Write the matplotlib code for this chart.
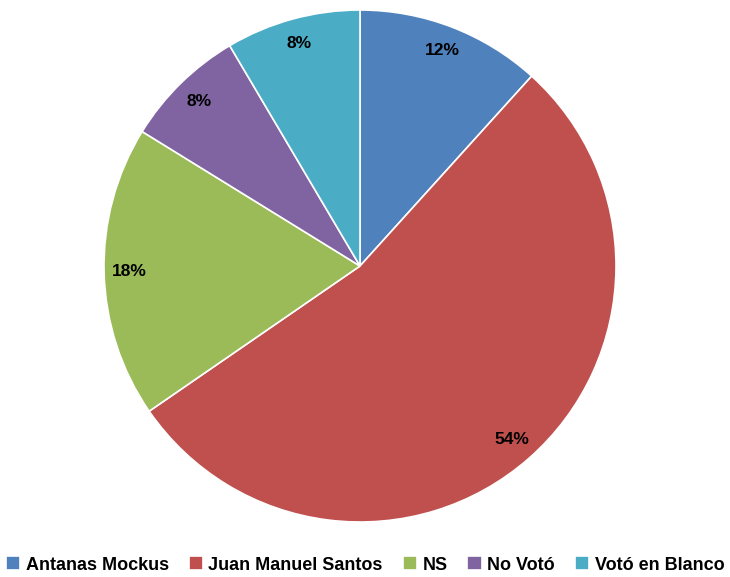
import matplotlib
matplotlib.use("Agg")
import matplotlib.pyplot as plt

labels = ["Antanas Mockus", "Juan Manuel Santos", "NS", "No Votó", "Votó en Blanco"]
shares = [11.7, 53.7, 18.4, 7.7, 8.5]
colors = ["#4F81BD", "#C0504D", "#9BBB59", "#8064A2", "#4BACC6"]

plt.rcParams["font.family"] = ["Liberation Sans Narrow", "Liberation Sans", "DejaVu Sans"]

fig = plt.figure(figsize=(7.30, 5.77), dpi=100)
ax = fig.add_axes([104 / 730, 55 / 577, 512 / 730, 512 / 577])

wedges, _, autotexts = ax.pie(
    shares,
    colors=colors,
    startangle=90,
    counterclock=False,
    radius=1.0,
    autopct=lambda p: f"{p:.0f}%",
    pctdistance=0.9,
    wedgeprops=dict(edgecolor="white", linewidth=1.2),
    textprops=dict(fontsize=12.5, fontweight="bold", color="black"),
)
ax.set_xlim(-1, 1)
ax.set_ylim(-1, 1)
ax.set_aspect("equal")

fig.legend(
    wedges, labels,
    loc="center", bbox_to_anchor=(0.5, 1 - 565 / 577),
    ncol=5, frameon=False,
    prop=dict(size=13, weight="bold"),
    handlelength=0.8, handleheight=0.8, handletextpad=0.3,
    columnspacing=1.1,
)

fig.savefig("out.png", dpi=100)
